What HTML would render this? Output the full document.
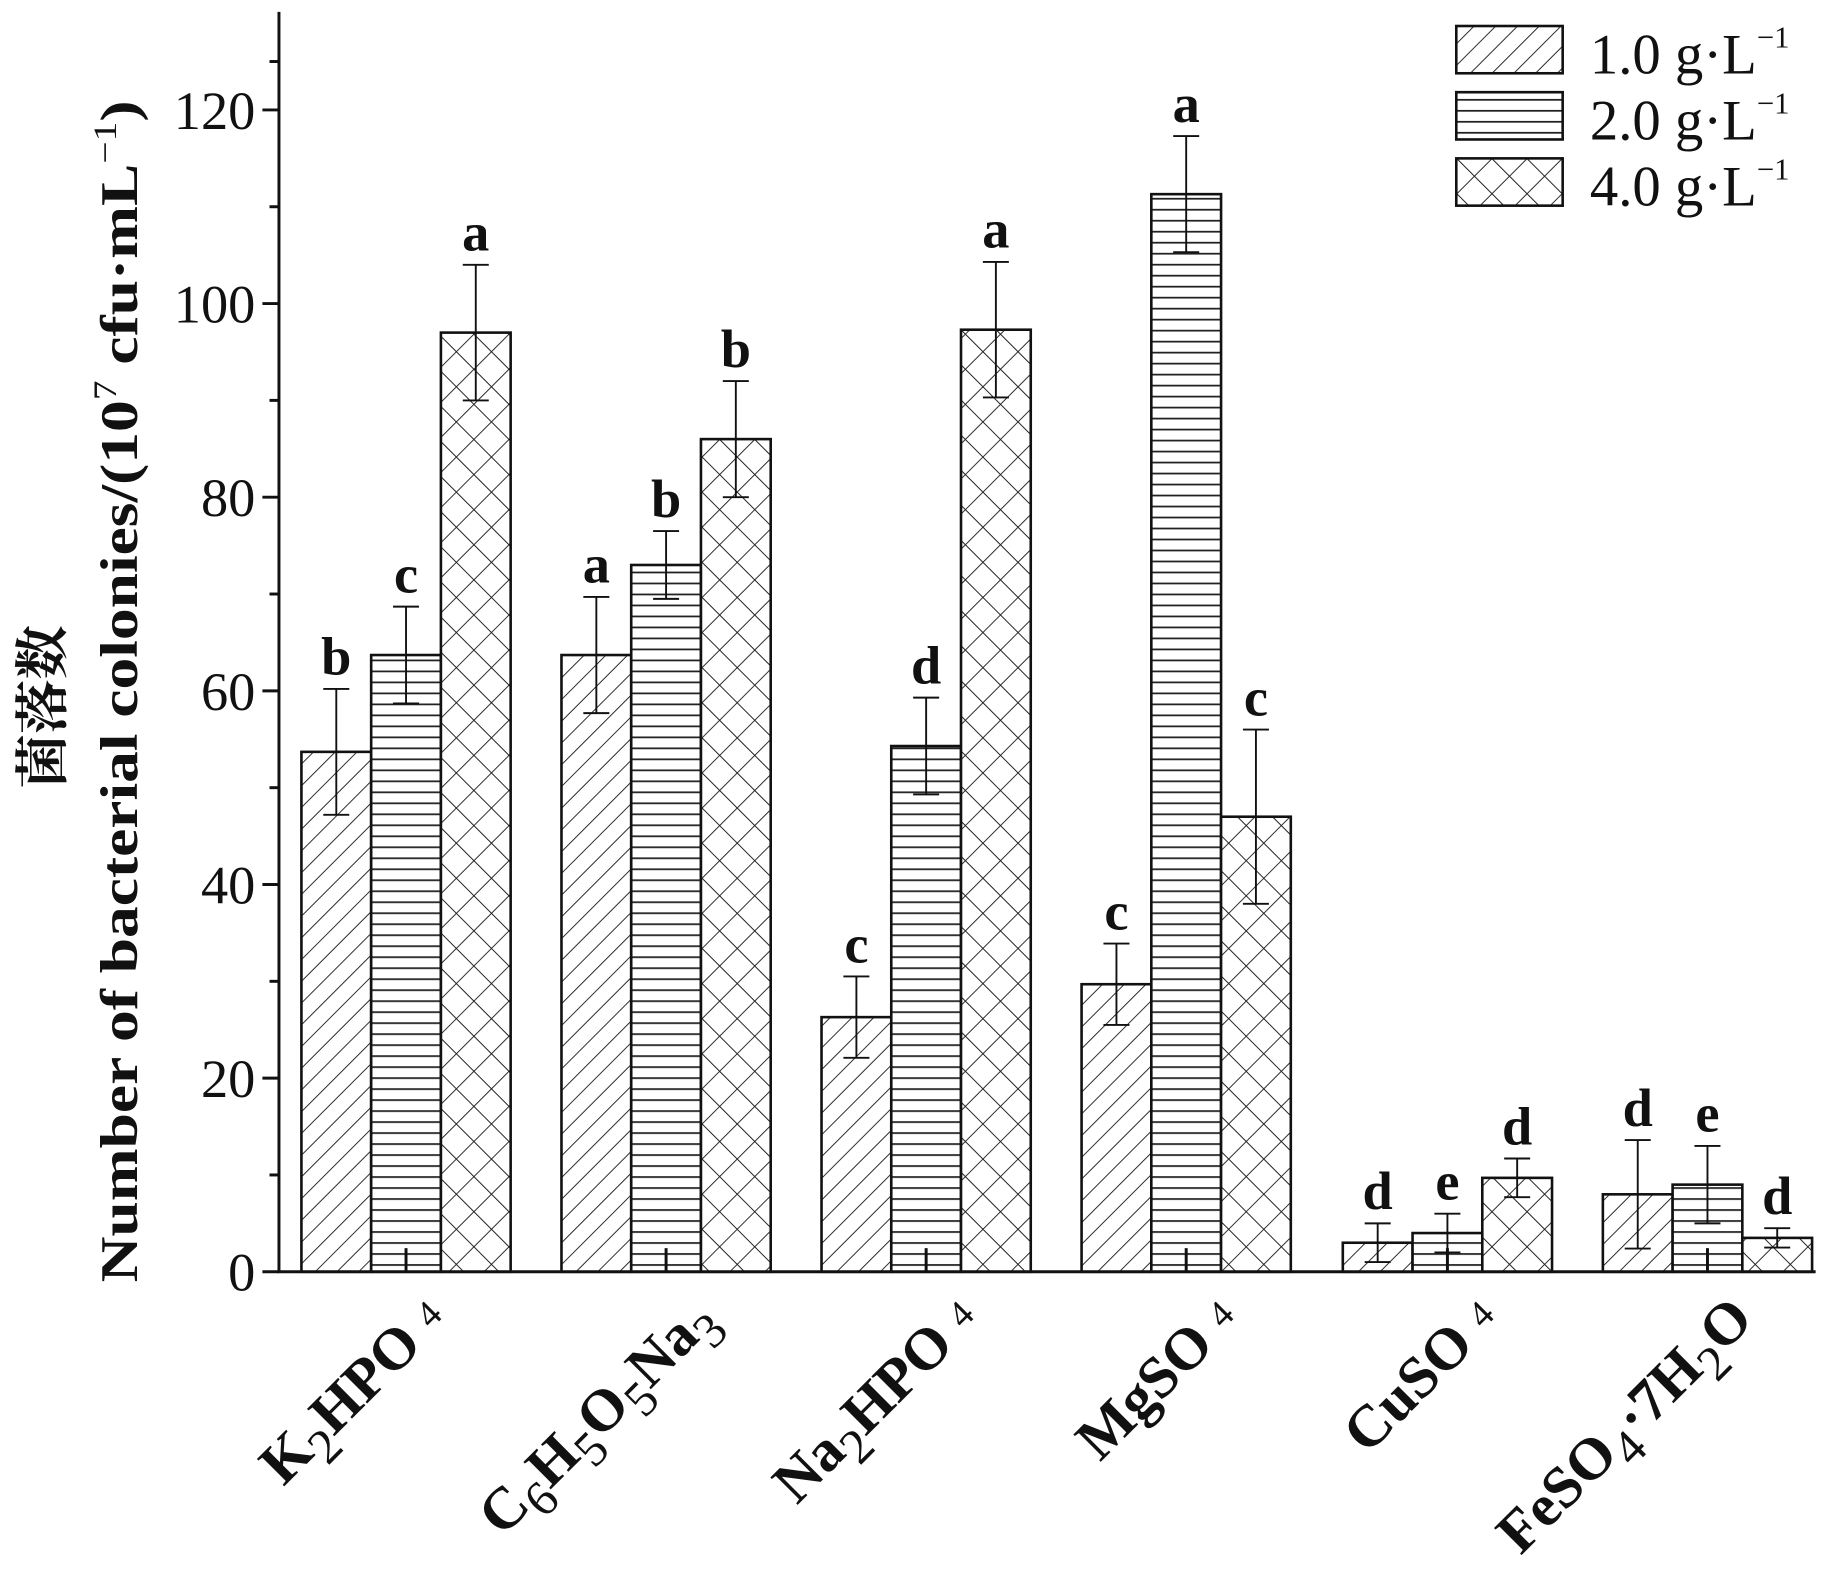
<!DOCTYPE html>
<html><head><meta charset="utf-8"><style>html,body{margin:0;padding:0;background:#fff}svg{display:block}</style></head>
<body>
<svg width="1844" height="1572" viewBox="0 0 1560 1330" preserveAspectRatio="none" xmlns="http://www.w3.org/2000/svg" font-family="Liberation Serif, serif">
<defs>
<pattern id="p1" patternUnits="userSpaceOnUse" width="13" height="13" patternTransform="rotate(45)">
<rect width="13" height="13" fill="#fff"/><line x1="0" y1="0" x2="0" y2="13" stroke="#222" stroke-width="1.6"/></pattern>
<pattern id="p2" patternUnits="userSpaceOnUse" width="10" height="9.3">
<rect width="10" height="9.3" fill="#fff"/><line x1="0" y1="0.7" x2="10" y2="0.7" stroke="#222" stroke-width="1.6"/></pattern>
<pattern id="p3" patternUnits="userSpaceOnUse" width="21" height="21" patternTransform="rotate(45)">
<rect width="21" height="21" fill="#fff"/><line x1="0" y1="0" x2="0" y2="21" stroke="#222" stroke-width="1.6"/><line x1="0" y1="0" x2="21" y2="0" stroke="#222" stroke-width="1.6"/></pattern>
</defs>
<g id="bars" stroke="#111" stroke-width="2.2"></g>
<g id="axes" stroke="#111" stroke-width="2.5" fill="none"></g>
<g id="txt"></g>
<rect x="1232" y="22" width="90" height="40" fill="url(#p1)" stroke="#111" stroke-width="2.2"/>
<rect x="1232" y="78" width="90" height="40" fill="url(#p2)" stroke="#111" stroke-width="2.2"/>
<rect x="1232" y="134" width="90" height="40" fill="url(#p3)" stroke="#111" stroke-width="2.2"/>
<g font-size="48" fill="#111">
<text x="1345" y="62">1.0 g·L<tspan font-size="26" dy="-22">−1</tspan></text>
<text x="1345" y="118">2.0 g·L<tspan font-size="26" dy="-22">−1</tspan></text>
<text x="1345" y="174">4.0 g·L<tspan font-size="26" dy="-22">−1</tspan></text>
</g>
<text transform="translate(116,585) rotate(-90)" text-anchor="middle" font-size="45" font-weight="bold" fill="#111" textLength="1000" lengthAdjust="spacingAndGlyphs">Number of bacterial colonies/(10<tspan font-size="28" dy="-18" font-weight="normal">7</tspan><tspan dy="18"> cfu·mL</tspan><tspan font-size="28" dy="-18" font-weight="normal">−1</tspan><tspan dy="18">)</tspan></text>
<text transform="translate(52,598) rotate(-90)" text-anchor="middle" font-size="46" font-weight="bold" fill="#111" font-family="Liberation Serif, Noto Serif CJK SC, serif">菌落数</text>
<g font-size="50" font-weight="bold" fill="#111" text-anchor="end">
<text transform="translate(380,1118) rotate(-45)">K<tspan font-weight="normal" font-size="42" dy="14">2</tspan><tspan dy="-14">HPO</tspan><tspan font-weight="normal" font-size="32" dx="14" dy="-6">4</tspan></text>
<text transform="translate(608,1118) rotate(-45)">C<tspan font-weight="normal" font-size="42" dy="14">6</tspan><tspan dy="-14">H</tspan><tspan font-weight="normal" font-size="42" dy="14">5</tspan><tspan dy="-14">O</tspan><tspan font-weight="normal" font-size="42" dy="14">5</tspan><tspan dy="-14">Na</tspan><tspan font-weight="normal" font-size="42" dy="14">3</tspan></text>
<text transform="translate(830,1118) rotate(-45)">Na<tspan font-weight="normal" font-size="42" dy="14">2</tspan><tspan dy="-14">HPO</tspan><tspan font-weight="normal" font-size="32" dx="14" dy="-6">4</tspan></text>
<text transform="translate(1050,1118) rotate(-45)">MgSO<tspan font-weight="normal" font-size="32" dx="14" dy="-6">4</tspan></text>
<text transform="translate(1270,1118) rotate(-45)">CuSO<tspan font-weight="normal" font-size="32" dx="14" dy="-6">4</tspan></text>
<text transform="translate(1485,1118) rotate(-45)">FeSO<tspan font-weight="normal" font-size="42" dy="14">4</tspan><tspan dy="-14">·7H</tspan><tspan font-weight="normal" font-size="42" dy="14">2</tspan><tspan dy="-14">O</tspan></text>
</g>
<script>
var y0=1076,k=(1076-93)/120,ns="http://www.w3.org/2000/svg";
function Y(v){return y0-v*k}
function el(t,a,p){var e=document.createElementNS(ns,t);for(var i in a)e.setAttribute(i,a[i]);document.getElementById(p).appendChild(e);return e}
var starts=[255,475,695,915,1136,1356],w=59;
var d=[[[53.7,6.5,'b'],[63.7,5,'c'],[97,7,'a']],[[63.7,6,'a'],[73,3.5,'b'],[86,6,'b']],[[26.3,4.2,'c'],[54.3,5,'d'],[97.3,7,'a']],[[29.7,4.2,'c'],[111.3,6,'a'],[47,9,'c']],[[3,2,'d'],[4,2,'e'],[9.7,2,'d']],[[8,5.6,'d'],[9,4,'e'],[3.5,1,'d']]];
var pats=['p1','p2','p3'];
d.forEach(function(g,gi){g.forEach(function(b,bi){var x=starts[gi]+bi*w;
el('rect',{x:x,y:Y(b[0]),width:w,height:y0-Y(b[0]),fill:'url(#'+pats[bi]+')'},'bars');
var cx=x+w/2;
el('line',{x1:cx,y1:Y(b[0]-b[1]),x2:cx,y2:Y(b[0]+b[1]),'stroke-width':1.6},'bars');
el('line',{x1:cx-11,y1:Y(b[0]+b[1]),x2:cx+11,y2:Y(b[0]+b[1]),'stroke-width':1.6},'bars');
el('line',{x1:cx-11,y1:Y(b[0]-b[1]),x2:cx+11,y2:Y(b[0]-b[1]),'stroke-width':1.6},'bars');
var t=el('text',{x:cx,y:Y(b[0]+b[1])-12,'text-anchor':'middle','font-size':46,'font-weight':'bold',fill:'#111'},'txt');t.textContent=b[2];
});});
el('path',{d:'M236 10 V1076 H1536'},'axes');
for(var v=0;v<=120;v+=10){var yy=Y(v);el('line',{x1:v%20?228:222,y1:yy,x2:236,y2:yy},'axes');
if(v%20==0){var t=el('text',{x:216,y:yy+16,'text-anchor':'end','font-size':46,fill:'#111'},'txt');t.textContent=v;}}
var ty=Y(125);el('line',{x1:228,y1:ty,x2:236,y2:ty},'axes');
starts.forEach(function(s){var c=s+w*1.5;el('line',{x1:c,y1:1076,x2:c,y2:1056},'axes');});
</script>
</svg>
</body></html>
